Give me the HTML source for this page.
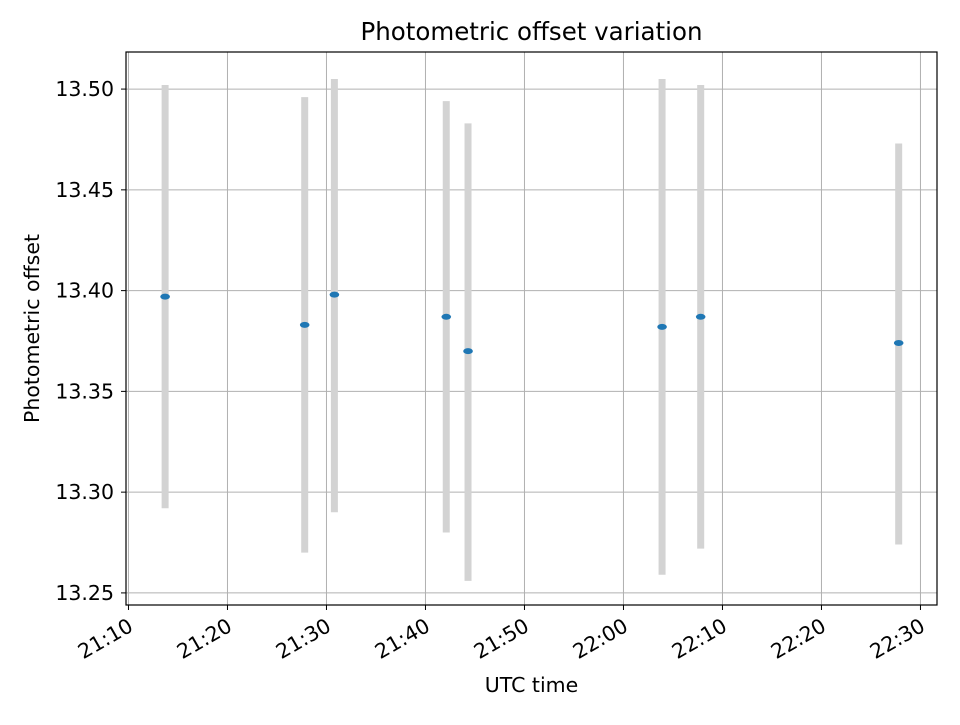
<!DOCTYPE html>
<html><head><meta charset="utf-8"><style>
body{margin:0;background:#fff;font-family:"Liberation Sans","DejaVu Sans",sans-serif}
svg text{font-family:"DejaVu Sans","Liberation Sans",sans-serif}
</style></head><body>
<svg id="chart" width="960" height="720" xmlns="http://www.w3.org/2000/svg">
<rect width="960" height="720" fill="#fff"/>
<g id="grid"></g>
<g id="bars"></g>
<g id="pts"></g>
<rect x="126" y="52" width="811" height="553" fill="none" stroke="#000" stroke-width="1.2"/>
<g id="axes"></g>
<text x="531.5" y="40" text-anchor="middle" font-size="24.5">Photometric offset variation</text>
<text x="531.5" y="692" text-anchor="middle" font-size="20.5">UTC time</text>
<text x="39" y="328.5" text-anchor="middle" font-size="20.5" transform="rotate(-90 39 328.5)">Photometric offset</text>
</svg>
<script>
// minutes after 21:10
const times = [3.7, 17.8, 20.8, 32.1, 34.3, 53.9, 57.8, 77.8];
const values = [13.397, 13.383, 13.398, 13.387, 13.370, 13.382, 13.387, 13.374];
const upper = [13.502, 13.496, 13.505, 13.494, 13.483, 13.505, 13.502, 13.473];
const lower = [13.292, 13.270, 13.290, 13.280, 13.256, 13.259, 13.272, 13.274];
const xTicks = [0, 10, 20, 30, 40, 50, 60, 70, 80];
const xTickLabels = ["21:10","21:20","21:30","21:40","21:50","22:00","22:10","22:20","22:30"];
const yTicks = [13.25, 13.30, 13.35, 13.40, 13.45, 13.50];

const L=126,R=937,T=52,B=605;
const x0=-0.25,x1=81.67,y0=13.244,y1=13.5184;
const sx=v=>L+(v-x0)/(x1-x0)*(R-L);
const sy=v=>B-(v-y0)/(y1-y0)*(B-T);
const NS="http://www.w3.org/2000/svg";
function mk(tag,attrs,parent){const e=document.createElementNS(NS,tag);for(const k in attrs)e.setAttribute(k,attrs[k]);parent.appendChild(e);return e;}
const grid=document.getElementById('grid'),axes=document.getElementById('axes'),bars=document.getElementById('bars'),pts=document.getElementById('pts');
xTicks.forEach((t,i)=>{
  const x=sx(t);
  const g=mk('line',{x1:x,x2:x,y1:T,y2:B,stroke:'#b0b0b0','stroke-width':1},grid);
  
  
  const tk=mk('line',{x1:x,x2:x,y1:B,y2:B+5,stroke:'#000','stroke-width':1},axes);
  
  
  const ax=x+6, ay=B+25;
  const tx=mk('text',{x:ax,y:ay,'text-anchor':'end','font-size':20.5,transform:`rotate(-30 ${ax} ${ay})`},axes);
  tx.textContent=xTickLabels[i];
  
  
});
yTicks.forEach(t=>{
  const y=sy(t);
  const g=mk('line',{x1:L,x2:R,y1:y,y2:y,stroke:'#b0b0b0','stroke-width':1},grid);
  
  
  const tk=mk('line',{x1:L-5,x2:L,y1:y,y2:y,stroke:'#000','stroke-width':1},axes);
  
  
  const tx=mk('text',{x:L-12,y:y+7,'text-anchor':'end','font-size':20.5},axes);
  tx.textContent=t.toFixed(2);
  
  
});
times.forEach((t,i)=>{
  const x=sx(t);
  const b=mk('line',{x1:x,x2:x,y1:sy(upper[i]),y2:sy(lower[i]),stroke:'#d3d3d3','stroke-width':7},bars);
  
  
  const p=mk('ellipse',{cx:x,cy:sy(values[i]),rx:4.8,ry:3,fill:'#1f77b4'},pts);
  
  
});
</script>
</body></html>
